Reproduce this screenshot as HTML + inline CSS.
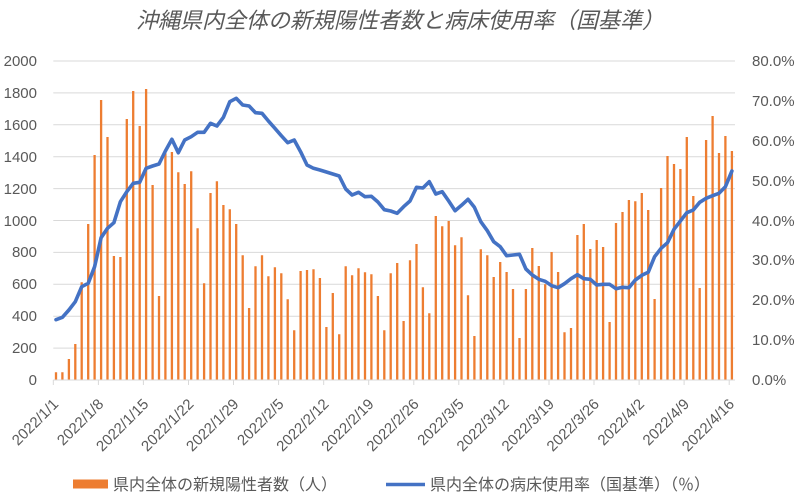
<!DOCTYPE html>
<html><head><meta charset="utf-8"><style>
html,body{margin:0;padding:0;background:#fff;}
svg{display:block;}
text{font-family:"Liberation Sans","Noto Sans CJK JP",sans-serif;fill:#595959;}
</style></head><body>
<svg width="798" height="496" viewBox="0 0 798 496" xmlns="http://www.w3.org/2000/svg">
<rect width="798" height="496" fill="#fff"/>
<text x="400" y="28" font-size="22" font-style="italic" text-anchor="middle">沖縄県内全体の新規陽性者数と病床使用率（国基準）</text>
<g stroke="#d9d9d9" stroke-width="1">
<line x1="53.3" y1="61" x2="735" y2="61"/>
<line x1="53.3" y1="92.9" x2="735" y2="92.9"/>
<line x1="53.3" y1="124.8" x2="735" y2="124.8"/>
<line x1="53.3" y1="156.7" x2="735" y2="156.7"/>
<line x1="53.3" y1="188.6" x2="735" y2="188.6"/>
<line x1="53.3" y1="220.5" x2="735" y2="220.5"/>
<line x1="53.3" y1="252.4" x2="735" y2="252.4"/>
<line x1="53.3" y1="284.3" x2="735" y2="284.3"/>
<line x1="53.3" y1="316.2" x2="735" y2="316.2"/>
<line x1="53.3" y1="348.1" x2="735" y2="348.1"/>
</g>
<g font-size="15" text-anchor="end">
<text x="37" y="66">2000</text>
<text x="37" y="98">1800</text>
<text x="37" y="130">1600</text>
<text x="37" y="162">1400</text>
<text x="37" y="194">1200</text>
<text x="37" y="226">1000</text>
<text x="37" y="257">800</text>
<text x="37" y="289">600</text>
<text x="37" y="321">400</text>
<text x="37" y="353">200</text>
<text x="37" y="385">0</text>
</g>
<g font-size="15">
<text x="752" y="66">80.0%</text>
<text x="752" y="106">70.0%</text>
<text x="752" y="146">60.0%</text>
<text x="752" y="186">50.0%</text>
<text x="752" y="226">40.0%</text>
<text x="752" y="265">30.0%</text>
<text x="752" y="305">20.0%</text>
<text x="752" y="345">10.0%</text>
<text x="752" y="385">0.0%</text>
</g>
<path fill="none" stroke="#ED7D31" stroke-width="2.3" d="M56 380V372.3M62.4 380V372.3M68.9 380V359M75.3 380V344M81.7 380V282.3M88.2 380V224M94.6 380V155M101.1 380V100M107.5 380V137M113.9 380V256M120.4 380V257M126.8 380V119M133.2 380V91M139.7 380V126M146.1 380V89M152.6 380V185M159 380V296M165.4 380V153.3M171.9 380V152M178.3 380V172.3M184.7 380V184M191.2 380V171.3M197.6 380V228.3M204.1 380V283.3M210.5 380V193M216.9 380V181.3M223.4 380V205M229.8 380V209.3M236.2 380V224M242.7 380V255.3M249.1 380V308M255.5 380V266.3M262 380V255.3M268.4 380V276.3M274.9 380V267.3M281.3 380V273.3M287.7 380V299.3M294.2 380V330.3M300.6 380V271M307 380V270M313.5 380V269.3M319.9 380V278M326.4 380V327M332.8 380V293M339.2 380V334.3M345.7 380V266.3M352.1 380V275.3M358.5 380V268.3M365 380V272.3M371.4 380V274.3M377.9 380V296M384.3 380V330.3M390.7 380V273.3M397.2 380V263M403.6 380V321M410 380V260.3M416.5 380V244M422.9 380V287.3M429.3 380V313.3M435.8 380V216M442.2 380V226.3M448.7 380V221M455.1 380V245.3M461.5 380V237.3M468 380V295.3M474.4 380V336M480.8 380V249.3M487.3 380V255.3M493.7 380V277M500.2 380V262M506.6 380V272M513 380V289M519.5 380V338M525.9 380V289M532.3 380V248M538.8 380V266M545.2 380V284.3M551.6 380V252M558.1 380V272M564.5 380V332.3M571 380V328M577.4 380V235M583.8 380V224M590.3 380V249M596.7 380V240M603.1 380V247M609.6 380V322M616 380V223M622.5 380V212M628.9 380V200M635.3 380V201.3M641.8 380V193M648.2 380V210M654.6 380V299M661.1 380V188M667.5 380V156M674 380V164M680.4 380V169M686.8 380V137M693.3 380V196M699.7 380V288M706.1 380V140M712.6 380V116M719 380V153M725.4 380V136M731.9 380V151"/>
<line x1="53.3" y1="380" x2="735" y2="380" stroke="#d9d9d9" stroke-width="1"/>
<path fill="none" stroke="#d9d9d9" stroke-width="1" d="M53.3 380V385M98.4 380V385M143.4 380V385M188.5 380V385M233.5 380V385M278.6 380V385M323.7 380V385M368.7 380V385M413.8 380V385M458.8 380V385M503.9 380V385M549 380V385M594 380V385M639.1 380V385M684.1 380V385M729.2 380V385"/>
<polyline fill="none" stroke="#4472C4" stroke-width="3.6" stroke-linejoin="round" stroke-linecap="round" points="56,319.7 62.4,317.3 68.9,310 75.3,301.7 81.7,286.7 88.2,283.3 94.6,266.7 101.1,237.7 107.5,228.3 113.9,222.7 120.4,201.7 126.8,191.7 133.2,183.3 139.7,182.3 146.1,168.3 152.6,166 159,164 165.4,151 171.9,139.3 178.3,152.7 184.7,140 191.2,136.7 197.6,132.3 204.1,132.3 210.5,123.3 216.9,126 223.4,117.3 229.8,101.7 236.2,98.3 242.7,105 249.1,106 255.5,112.7 262,113.3 268.4,121 274.9,128.3 281.3,135.7 287.7,142.7 294.2,140 300.6,151.7 307,165 313.5,168.3 319.9,170 326.4,172 332.8,174 339.2,176 345.7,189 352.1,195 358.5,192.3 365,196.7 371.4,196.3 377.9,202 384.3,209.7 390.7,211 397.2,213.3 403.6,206.7 410,201 416.5,187.3 422.9,188 429.3,181.7 435.8,194 442.2,191.7 448.7,201 455.1,210.7 461.5,205.3 468,199.3 474.4,207.3 480.8,221.7 487.3,230.7 493.7,241.7 500.2,246.7 506.6,255.7 513,255 519.5,254.3 525.9,269 532.3,275 538.8,279.3 545.2,281.3 551.6,285.7 558.1,287.7 564.5,283.7 571,278.7 577.4,274.7 583.8,278.7 590.3,279.3 596.7,285 603.1,284.3 609.6,284.3 616,288.7 622.5,287.3 628.9,287.7 635.3,280 641.8,275.3 648.2,272.3 654.6,256.7 661.1,248.3 667.5,242.7 674,229.3 680.4,221 686.8,212.7 693.3,210 699.7,202.3 706.1,198.3 712.6,195.7 719,193.3 725.4,186.7 731.9,171"/>
<g font-size="15" text-anchor="end">
<text transform="translate(59.3,405) rotate(-45)">2022/1/1</text>
<text transform="translate(104.4,405) rotate(-45)">2022/1/8</text>
<text transform="translate(149.4,405) rotate(-45)">2022/1/15</text>
<text transform="translate(194.5,405) rotate(-45)">2022/1/22</text>
<text transform="translate(239.5,405) rotate(-45)">2022/1/29</text>
<text transform="translate(284.6,405) rotate(-45)">2022/2/5</text>
<text transform="translate(329.7,405) rotate(-45)">2022/2/12</text>
<text transform="translate(374.7,405) rotate(-45)">2022/2/19</text>
<text transform="translate(419.8,405) rotate(-45)">2022/2/26</text>
<text transform="translate(464.8,405) rotate(-45)">2022/3/5</text>
<text transform="translate(509.9,405) rotate(-45)">2022/3/12</text>
<text transform="translate(555,405) rotate(-45)">2022/3/19</text>
<text transform="translate(600,405) rotate(-45)">2022/3/26</text>
<text transform="translate(645.1,405) rotate(-45)">2022/4/2</text>
<text transform="translate(690.1,405) rotate(-45)">2022/4/9</text>
<text transform="translate(735.2,405) rotate(-45)">2022/4/16</text>
</g>
<rect x="73" y="479.5" width="35" height="9" fill="#ED7D31"/>
<text x="113" y="490" font-size="16">県内全体の新規陽性者数（人）</text>
<line x1="386" y1="484.5" x2="425" y2="484.5" stroke="#4472C4" stroke-width="3.6"/>
<text x="430" y="490" font-size="16">県内全体の病床使用率（国基準）（％）</text>
</svg>
</body></html>
